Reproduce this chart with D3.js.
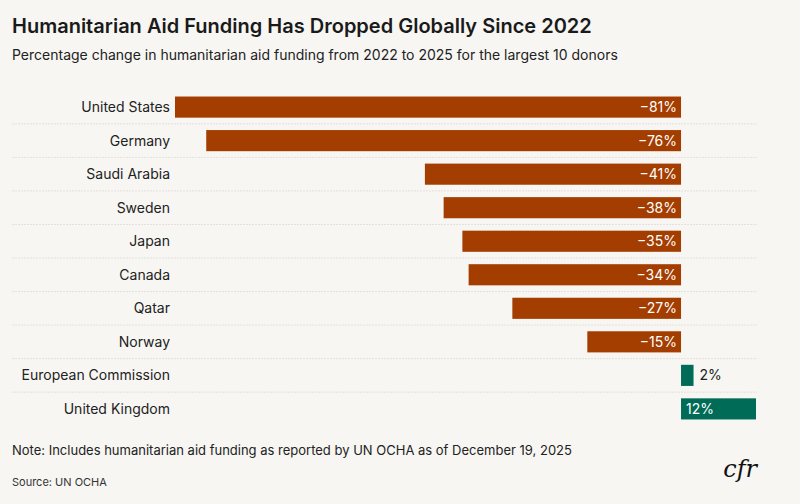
<!DOCTYPE html>
<html><head><meta charset="utf-8">
<script src="https://cdn.jsdelivr.net/npm/d3@7"></script>
<style>body{margin:0;background:#f7f6f3;font-family:Inter,"Noto Sans",sans-serif;}</style>
</head><body><svg id="c" width="800" height="504"></svg>
<script>
const donors = ["United States","Germany","Saudi Arabia","Sweden","Japan","Canada","Qatar","Norway","European Commission","United Kingdom"];
const change = [-81,-76,-41,-38,-35,-34,-27,-15,2,12];
const data = donors.map((d,i)=>({name:d,v:change[i]}));

const svg = d3.select("#c");
svg.append("rect").attr("width",800).attr("height",504).attr("fill","#f7f6f3");

svg.append("text").attr("x",12).attr("y",33).attr("font-size",20).attr("font-weight",600).attr("fill","#1a1a1a")
  .text("Humanitarian Aid Funding Has Dropped Globally Since 2022");
svg.append("text").attr("x",12).attr("y",60).attr("font-size",14).attr("fill","#222")
  .text("Percentage change in humanitarian aid funding from 2022 to 2025 for the largest 10 donors");

const x = d3.scaleLinear().domain([-81,12]).range([175,756]);
const y = d3.scaleBand().domain(donors).range([90.5,425.5]).paddingInner(0.37).paddingOuter(0.18);
const step = y.step();

const g = svg.append("g");
// separators
g.selectAll("line.sep").data(donors.slice(1)).join("line")
  .attr("x1",12).attr("x2",757)
  .attr("y1",d=>y(d)-(step-y.bandwidth())/2).attr("y2",d=>y(d)-(step-y.bandwidth())/2)
  .attr("stroke","#e3e0db").attr("stroke-dasharray","2,1");

g.selectAll("rect.bar").data(data).join("rect")
  .attr("x",d=>x(Math.min(0,d.v))).attr("width",d=>Math.abs(x(d.v)-x(0)))
  .attr("y",d=>y(d.name)).attr("height",y.bandwidth())
  .attr("fill",d=>d.v<0?"#a33d00":"#006b56");

g.selectAll("text.lab").data(data).join("text")
  .attr("x",170).attr("y",d=>y(d.name)+y.bandwidth()/2).attr("dy","0.35em")
  .attr("text-anchor","end").attr("font-size",14).attr("fill","#222").text(d=>d.name);

const fmt = v => (v<0?"\u2212"+Math.abs(v):v)+"%";
g.selectAll("text.val").data(data).join("text")
  .attr("x",d=>d.v<0?x(0)-4:(d.v<5?x(d.v)+6:x(0)+5))
  .attr("y",d=>y(d.name)+y.bandwidth()/2).attr("dy","0.35em")
  .attr("text-anchor",d=>d.v<0?"end":"start").attr("font-size",14)
  .attr("fill",d=>d.v<5&&d.v>0?"#222":"#fff").text(d=>fmt(d.v));

svg.append("text").attr("x",12).attr("y",455).attr("font-size",13).attr("fill","#222")
  .text("Note: Includes humanitarian aid funding as reported by UN OCHA as of December 19, 2025");
svg.append("text").attr("x",12).attr("y",486).attr("font-size",11).attr("fill","#333").text("Source: UN OCHA");
svg.append("text").attr("x",757).attr("y",477).attr("text-anchor","end").attr("font-size",24)
  .attr("font-style","italic").attr("font-family","'DejaVu Serif',serif").attr("fill","#111").text("cfr");
</script></body></html>
